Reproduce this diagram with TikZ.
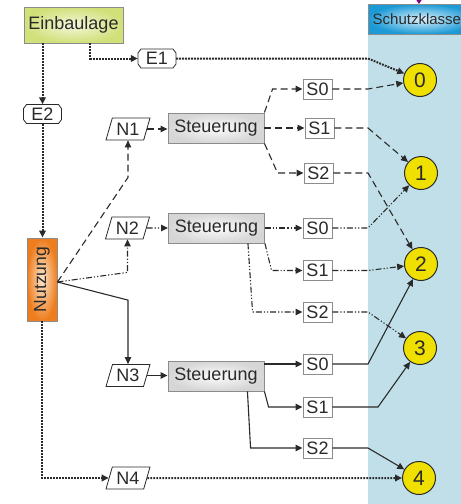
\documentclass[tikz,border=0pt]{standalone}
\usepackage{fontspec}
\setmainfont{Liberation Sans}
\usetikzlibrary{arrows.meta,shapes.geometric}
\definecolor{lc}{HTML}{2A2A2A}
\definecolor{boxgray}{HTML}{8C8C8C}
\definecolor{colbg}{HTML}{C1DFE9}
\definecolor{yel}{HTML}{F0E000}
\definecolor{hdrout}{HTML}{1B9AD6}
\definecolor{hdrin}{HTML}{DDF2FB}
\definecolor{nzout}{HTML}{EE7D1E}
\definecolor{nzin}{HTML}{FDE6CC}
\definecolor{stout}{HTML}{D6D6D6}
\definecolor{stin}{HTML}{FCFCFC}
\definecolor{ebout}{HTML}{D2E07A}
\definecolor{ebin}{HTML}{F4F7DA}
\definecolor{txt}{HTML}{2A2A2A}
\begin{document}
\begin{tikzpicture}[x=1pt,y=-1pt,
  lbl/.style={font=\fontsize{18}{20}\selectfont, text=txt},
  box/.style={lbl, draw=boxgray, line width=0.9pt, inner sep=0pt},
  sbox/.style={box, fill=white, minimum width=29pt, minimum height=20pt},
  steu/.style={box, minimum width=96pt, minimum height=30pt, inner color=stin, outer color=stout},
  npar/.style={lbl, draw=lc, line width=0.8pt, fill=white, trapezium, trapezium left angle=63, trapezium right angle=117,
     trapezium stretches body, minimum width=44pt, minimum height=22pt, inner xsep=1pt, inner ysep=0pt},
  cham/.style={lbl, rectangle, minimum width=38pt, minimum height=19pt, inner sep=0pt},
  chamline/.style={draw=lc, line width=0.8pt, fill=white},
  circ/.style={circle, draw=lc, line width=1pt, fill=yel, minimum size=33pt, inner sep=0pt,
     font=\fontsize{21}{22}\selectfont, text=txt},
  conn/.style={draw=lc, line width=1.1pt},
  arr/.style={-{Triangle[length=7pt,width=6.5pt]}},
  dotl/.style={conn, line width=2pt, dash pattern=on 1.8pt off 1.2pt},
  dashA/.style={conn, dash pattern=on 7pt off 4pt},
  dashB/.style={conn, dash pattern=on 6pt off 2pt on 1.2pt off 2pt on 1.2pt off 2pt},
  solidC/.style={conn}
]
\useasboundingbox (0,0) rectangle (461,504);
\clip (0,0) rectangle (461,504);
% column
\fill[colbg] (368,34) rectangle (461,504);
\path[draw=boxgray, line width=0.9pt, inner color=hdrin, outer color=hdrout] (368,4) rectangle (475,34);
\node[anchor=west, font=\fontsize{15}{16}\selectfont, text=txt, inner sep=0pt] (hdr) at (372.5,19.5) {Schutzklasse};
\coordinate (bx) at (368,0);
\coordinate (ptop) at (419,-8);
\coordinate (pbot) at (419,4);
\draw[violet, line width=1pt, -{Triangle[length=4pt,width=5pt]}] (ptop) -- (pbot);

% nodes
\node[box, minimum width=99pt, minimum height=36pt, inner color=ebin, outer color=ebout] (einb) at (73.5,25) {Einbaulage};

\foreach \nm/\px/\py/\tx in {e1/157/58.5/E1, e2/42.5/114/E2}{
  \path[chamline] (\px-16,\py-9.5) -- (\px+16,\py-9.5) -- (\px+19,\py-5.5) -- (\px+19,\py+5.5) -- (\px+16,\py+9.5)
     -- (\px-16,\py+9.5) -- (\px-19,\py+5.5) -- (\px-19,\py-5.5) -- cycle;
  \node[cham] (\nm) at (\px,\py) {\tx};
}
\node[box, minimum width=30pt, minimum height=83pt, inner color=nzin, outer color=nzout, font=\fontsize{17.5}{19}\selectfont] (nutz) at (42,279.5) {\rotatebox{90}{Nutzung}};

\node[npar] (n1) at (128,129) {N1};
\node[npar] (n2) at (127.5,228) {N2};
\node[npar] (n3) at (128,375.5) {N3};
\node[npar] (n4) at (128,478) {N4};

\node[steu] (st1) at (216,128) {Steuerung};
\node[steu] (st2) at (216.5,228) {Steuerung};
\node[steu] (st3) at (216,376) {Steuerung};

\node[sbox] (s10) at (317.5,89) {S0};
\node[sbox] (s11) at (319.5,128) {S1};
\node[sbox] (s12) at (318.5,173) {S2};
\node[sbox] (s20) at (317.5,228) {S0};
\node[sbox] (s21) at (317.5,270.5) {S1};
\node[sbox] (s22) at (317.5,312) {S2};
\node[sbox] (s30) at (317.5,364) {S0};
\node[sbox] (s31) at (317.5,407) {S1};
\node[sbox] (s32) at (317.5,448) {S2};

\node[circ] (c0) at (420,80) {0};
\node[circ] (c1) at (421,173) {1};
\node[circ] (c2) at (421,264) {2};
\node[circ] (c3) at (420,348) {3};
\node[circ] (c4) at (419,478) {4};

% dotted connectors
\draw[dotl,arr] ([xshift=16.5pt]einb.south) |- (e1.west);
\draw[dotl,arr] (e1.east) -- (e1.east -| bx) -- (c0);
\draw[dotl,arr] ([xshift=-31pt]einb.south) -- (e2.north);
\draw[dotl,arr] (e2.south) -- (e2.south |- nutz.north);
\draw[dotl,arr] (nutz.south) |- (n4.west);
\draw[dotl,arr] (n4.east) -- (c4.west);

% Nutzung fan
\coordinate (nz) at ([yshift=-2.5pt]nutz.east);
\draw[dashA,arr] (nz) -- ([yshift=-37pt]n1.south) -- (n1.south);
\draw[dashB,arr] (nz) -- ([yshift=-33pt]n2.south) -- (n2.south);
\draw[solidC,arr] (nz) -- ([yshift=64pt]n3.north) -- (n3.north);

\draw[dashA,arr] (n1.east) -- (n1.east -| st1.west);
\draw[dashB,arr] (n2.east) -- (st2.west);
\draw[solidC,arr] (n3.east) -- (n3.east -| st3.west);

% Steuerung 1
\draw[dashA,arr] (st1.north east) -- ([xshift=-30pt]s10.west) -- (s10.west);
\draw[dashA,arr] (st1.east) -- (s11.west);
\draw[dashA,arr] (st1.south east) -- ([xshift=-26pt]s12.west) -- (s12.west);
% Steuerung 2
\draw[dashB,arr] (st2.east) -- (s20.west);
\draw[dashB,arr] (st2.south east) -- ([xshift=-31pt]s21.west) -- (s21.west);
\draw[dashB,arr] ([xshift=-17pt]st2.south east) -- ([xshift=-50pt]s22.west) -- (s22.west);
% Steuerung 3
\draw[solidC,arr] ([yshift=12pt]st3.east) -- (s30.west);
\draw[solidC,arr] (st3.south east) -- ([xshift=-34pt]s31.west) -- (s31.west);
\draw[solidC,arr] ([xshift=-17pt]st3.south east) -- ([xshift=-52pt]s32.west) -- (s32.west);

% S to classes
\draw[dashA,arr] (s10.east) -- (s10.east -| bx) -- (c0);
\draw[dashA,arr] (s11.east) -- (s11.east -| bx) -- (c1);
\draw[dashA,arr] (s12.east) -- (s12.east -| bx) -- (c2);
\draw[dashB,arr] (s20.east) -- (s20.east -| bx) -- (c1);
\draw[dashB,arr] (s21.east) -- (s21.east -| bx) -- (c2);
\draw[dashB,arr] (s22.east) -- (s22.east -| bx) -- (c3);
\draw[solidC,arr] (s30.east) -- (s30.east -| bx) -- (c2);
\draw[solidC,arr] (s31.east) -- ([xshift=10pt]s31.east -| bx) -- (c3);
\draw[solidC,arr] (s32.east) -- (s32.east -| bx) -- (c4);
\end{tikzpicture}
\end{document}
